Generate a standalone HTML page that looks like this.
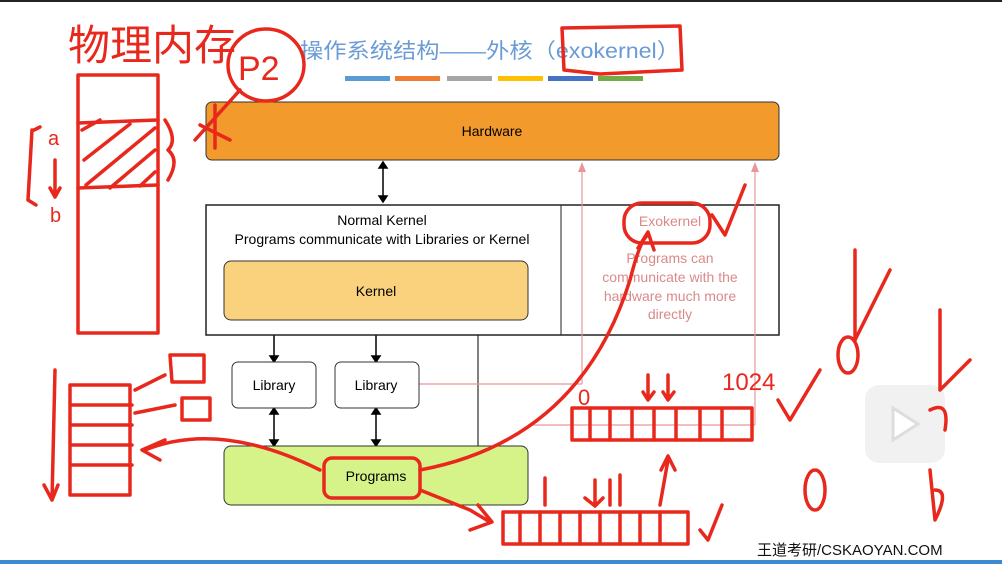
<!DOCTYPE html>
<html><head><meta charset="utf-8"><style>
body{margin:0;width:1002px;height:564px;overflow:hidden;background:#fff;font-family:"Liberation Sans",sans-serif}
</style></head><body>
<svg width="1002" height="564" viewBox="0 0 1002 564" xmlns="http://www.w3.org/2000/svg" font-family="Liberation Sans, Noto Sans CJK SC, sans-serif">
<rect x="0" y="0" width="1002" height="2" fill="#222"/>
<rect x="0" y="560" width="1002" height="4" fill="#3b8ad0"/>
<text x="300" y="58" font-size="21" fill="#6a9bd6" textLength="380" lengthAdjust="spacingAndGlyphs">操作系统结构——外核（exokernel）</text>
<g>
<rect x="345" y="76" width="45" height="5" fill="#5b9bd5"/>
<rect x="395" y="76" width="45" height="5" fill="#ed7d31"/>
<rect x="447" y="76" width="45" height="5" fill="#a5a5a5"/>
<rect x="498" y="76" width="45" height="5" fill="#ffc000"/>
<rect x="548" y="76" width="45" height="5" fill="#4472c4"/>
<rect x="598" y="76" width="45" height="5" fill="#70ad47"/>
</g>
<rect x="206" y="102" width="573" height="58" rx="6" fill="#f39a2c" stroke="#333"/>
<text x="492" y="136" font-size="14" text-anchor="middle">Hardware</text>
<g stroke="#000" stroke-width="1.5" fill="#000">
<line x1="383" y1="166" x2="383" y2="198"/>
<polygon points="379,168 383,162 387,168"/><polygon points="379,196 383,202 387,196"/>
<line x1="274" y1="323" x2="274" y2="359"/><polygon points="270,326 274,320 278,326"/><polygon points="270,356 274,362 278,356"/>
<line x1="376" y1="323" x2="376" y2="359"/><polygon points="372,326 376,320 380,326"/><polygon points="372,356 376,362 380,356"/>
<line x1="274" y1="411" x2="274" y2="443"/><polygon points="270,414 274,408 278,414"/><polygon points="270,440 274,446 278,440"/>
<line x1="376" y1="411" x2="376" y2="443"/><polygon points="372,414 376,408 380,414"/><polygon points="372,440 376,446 380,440"/>
<line x1="478" y1="324" x2="478" y2="446" stroke-width="1"/><polygon points="474,327 478,320 482,327"/>
</g>
<rect x="206" y="205" width="573" height="130" fill="#fff" stroke="#222" stroke-width="1.5"/>
<line x1="561" y1="205" x2="561" y2="335" stroke="#222"/>
<text x="382" y="225" font-size="14" text-anchor="middle">Normal Kernel</text>
<text x="382" y="244" font-size="14" text-anchor="middle">Programs communicate with Libraries or Kernel</text>
<rect x="224" y="261" width="304" height="59" rx="7" fill="#fad27e" stroke="#333"/>
<text x="376" y="296" font-size="14" text-anchor="middle">Kernel</text>
<g stroke="#e89898" fill="none" stroke-width="1.2">
<line x1="582" y1="166" x2="582" y2="384"/>
<line x1="755" y1="166" x2="755" y2="425"/>
<line x1="419" y1="384" x2="582" y2="384"/>
<line x1="528" y1="425" x2="755" y2="425"/>
</g>
<polygon points="578,172 582,162 586,172" fill="#e89898"/>
<polygon points="751,172 755,162 759,172" fill="#e89898"/>
<g font-size="14" fill="#d98a8a" text-anchor="middle">
<text x="670" y="226">Exokernel</text>
<text x="670" y="263">Programs can</text>
<text x="670" y="282">communicate with the</text>
<text x="670" y="301">hardware much more</text>
<text x="670" y="319">directly</text>
</g>
<rect x="232" y="362" width="84" height="46" rx="6" fill="#fff" stroke="#333"/>
<text x="274" y="390" font-size="14" text-anchor="middle">Library</text>
<rect x="335" y="362" width="84" height="46" rx="6" fill="#fff" stroke="#333"/>
<text x="376" y="390" font-size="14" text-anchor="middle">Library</text>
<rect x="224" y="446" width="304" height="59" rx="7" fill="#d6f38a" stroke="#333"/>
<text x="376" y="481" font-size="14" text-anchor="middle">Programs</text>
<rect x="865" y="385" width="80" height="78" rx="14" fill="#f0f0f0" opacity="0.9"/>
<polygon points="893,408 893,440 918,424" fill="#fff" stroke="#ddd" stroke-width="3"/>
<text x="757" y="555" font-size="15" fill="#111">王道考研/CSKAOYAN.COM</text>
<g stroke="#e8281c" stroke-width="3.5" fill="none" stroke-linecap="round" stroke-linejoin="round">
<text x="68" y="60" font-size="42" fill="#e8281c" stroke="none">物理内存</text>
<rect x="78" y="75" width="80" height="258"/>
<path d="M78 123 L158 120 M78 188 L158 185"/>
<path d="M82 130 L100 120 M84 160 L130 124 M86 185 L155 128 M110 188 L155 150 M140 186 L155 172"/>
<path d="M32 130 L28 200 M34 130 L40 127 M28 200 L36 205"/>
<text x="48" y="145" font-size="20" fill="#e8281c" stroke="none">a</text>
<text x="50" y="222" font-size="20" fill="#e8281c" stroke="none">b</text>
<path d="M55 160 L55 195 M50 188 L55 197 L60 188"/>
<path d="M165 120 Q178 140 168 150 Q180 160 168 180"/>
<ellipse cx="266" cy="65" rx="38" ry="36"/>
<text x="238" y="80" font-size="34" fill="#e8281c" stroke="none">P2</text>
<path d="M240 90 L195 140 M200 125 L230 140 M215 105 L215 148"/>
<path d="M562 28 L680 26 L682 70 L640 72 L600 74 L564 70 Z"/>
<rect x="624" y="203" width="86" height="40" rx="18"/>
<path d="M712 215 L725 235 L745 185"/>
<path d="M420 470 Q580 440 630 280 Q640 240 648 235 M638 248 L648 232 L654 250"/>
<rect x="324" y="458" width="96" height="40" rx="8"/>
<path d="M420 490 L470 510 L490 522 M470 530 L492 522 L478 505"/>
<rect x="503" y="512" width="185" height="32"/>
<path d="M520 512 V544 M540 512 V544 M560 512 V544 M580 512 V544 M600 512 V544 M620 512 V544 M640 512 V544 M660 512 V544"/>
<path d="M545 478 V505 M595 480 V505 M610 480 V505 M620 475 V505 M585 498 L595 506 L603 498"/>
<path d="M660 505 L668 460 M661 470 L668 456 L675 470"/>
<path d="M700 530 L708 540 L722 505"/>
<rect x="572" y="408" width="180" height="32"/>
<path d="M590 410 V440 M610 410 V440 M632 410 V440 M654 410 V440 M676 410 V440 M700 410 V440 M722 410 V440"/>
<text x="578" y="405" font-size="22" fill="#e8281c" stroke="none">0</text>
<text x="722" y="390" font-size="24" fill="#e8281c" stroke="none">1024</text>
<path d="M648 375 V398 M668 375 V398 M643 392 L648 400 L654 392 M663 392 L668 400 L674 392"/>
<path d="M778 400 L790 420 L820 370"/>
<ellipse cx="848" cy="355" rx="10" ry="18"/>
<path d="M855 250 L855 340 L890 270"/>
<path d="M940 310 L940 390 L970 360 M930 410 Q950 400 945 430"/>
<ellipse cx="815" cy="490" rx="10" ry="20"/>
<path d="M930 470 L935 520 Q950 490 935 490"/>
<path d="M145 450 Q220 420 320 470"/>
<path d="M165 440 L142 450 L160 460"/>
<path d="M85 385 L70 385 L70 495 L130 495 L130 385 Z M70 405 H132 M70 425 H132 M70 445 H132 M70 465 H132"/>
<path d="M55 370 L52 500 M44 485 L52 500 L58 485"/>
<path d="M170 355 H204 V382 H172 Z M182 398 H210 V420 H182 Z"/>
<path d="M135 390 L165 375 M135 413 L175 405"/>
</g>
</svg>
</body></html>
